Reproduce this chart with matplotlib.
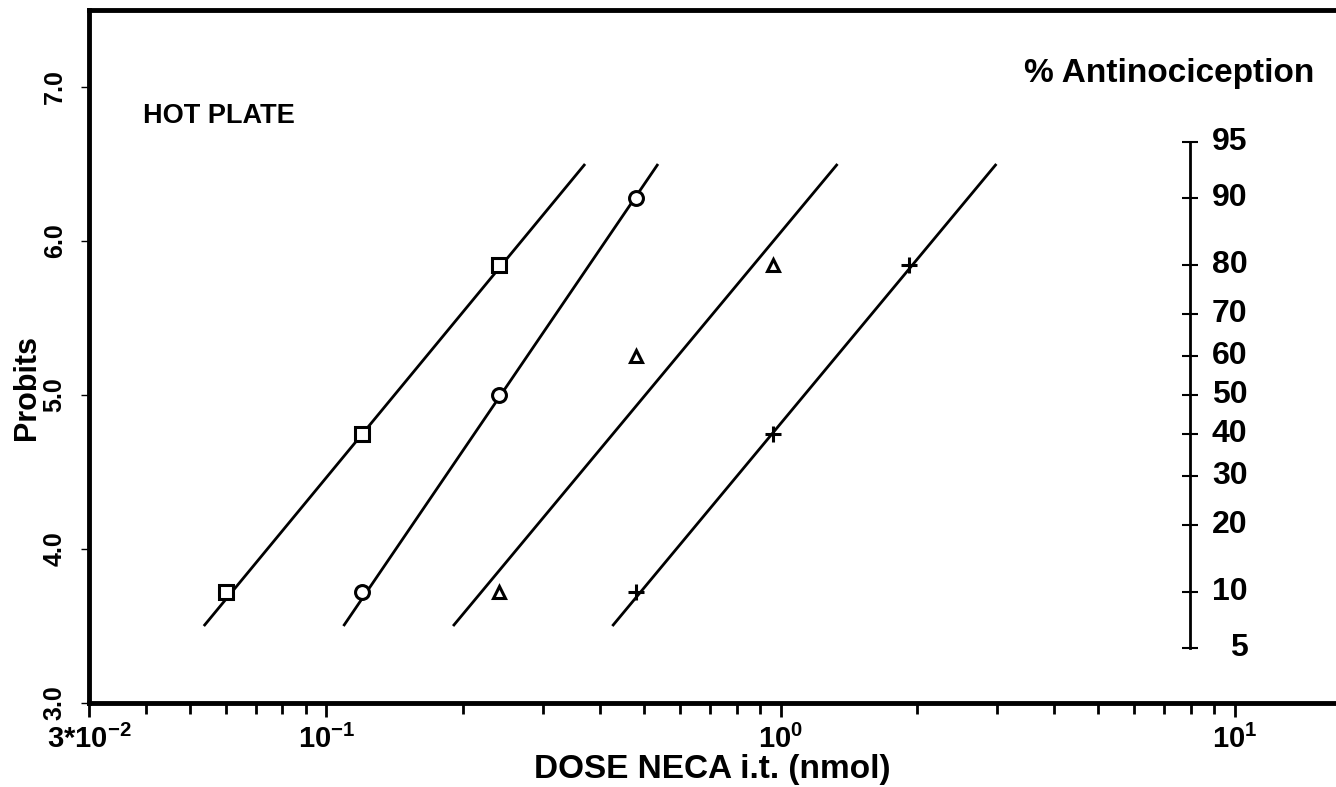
from statistics import NormalDist

import matplotlib
matplotlib.use("Agg")
import matplotlib.pyplot as plt
from matplotlib.ticker import FixedLocator, LogLocator, NullFormatter

plt.rcParams['font.family'] = ['Liberation Sans', 'DejaVu Sans']
plt.rcParams['font.weight'] = 'bold'
plt.rcParams['mathtext.fontset'] = 'custom'
plt.rcParams['mathtext.rm'] = 'Liberation Sans:bold'
plt.rcParams['mathtext.it'] = 'Liberation Sans:bold'
plt.rcParams['mathtext.bf'] = 'Liberation Sans:bold'

# doses (nmol) and % antinociception for each treatment group
dose_square = [0.06, 0.12, 0.24]
pct_square = [10, 40, 80]
dose_circle = [0.12, 0.24, 0.48]
pct_circle = [10, 50, 90]
dose_triangle = [0.24, 0.48, 0.96]
pct_triangle = [10, 60, 80]
dose_plus = [0.48, 0.96, 1.92]
pct_plus = [10, 40, 80]

# fitted probit lines: dose at probit 3.5 and at probit 6.5
fit_probits = [3.5, 6.5]
fit_square = [0.0537, 0.371]
fit_circle = [0.109, 0.537]
fit_triangle = [0.190, 1.334]
fit_plus = [0.426, 2.985]

pct_scale = [95, 90, 80, 70, 60, 50, 40, 30, 20, 10, 5]
probit_ticks = [3.0, 4.0, 5.0, 6.0, 7.0]


def probit(p):
    return 5 + NormalDist().inv_cdf(p / 100.0)


fig = plt.figure(figsize=(13.36, 7.87), dpi=100)
ax = fig.add_axes([0.0666, 0.1067, 0.9334, 0.8806])
ax.set_xscale('log')
ax.set_xlim(0.03, 16.7)
ax.set_ylim(3.0, 7.5)

groups = [
    (dose_square, pct_square, fit_square, 's', 10),
    (dose_circle, pct_circle, fit_circle, 'o', 10),
    (dose_triangle, pct_triangle, fit_triangle, '^', 8),
    (dose_plus, pct_plus, fit_plus, '+', 12),
]
for doses, pcts, fit, mk, ms in groups:
    ax.plot(fit, fit_probits, color='black', lw=2.0, solid_capstyle='butt')
    ax.plot(doses, [probit(p) for p in pcts], linestyle='none', marker=mk,
            ms=ms, mfc='white', mec='black', mew=2.2)

# percent scale drawn inside the plot
yt = ax.get_yaxis_transform()
sx = 0.883
scale_y = [probit(p) for p in pct_scale]
ax.plot([sx, sx], [min(scale_y), max(scale_y)], color='black', lw=2.0,
        transform=yt)
ax.plot([sx] * len(scale_y), scale_y, linestyle='none', marker='_', ms=11,
        mew=1.5, color='black', transform=yt)
for p, y in zip(pct_scale, scale_y):
    ax.text(0.929, y, str(p), transform=yt, ha='right', va='center',
            fontsize=23, fontweight='bold')
ax.text(0.866, 0.908, '% Antinociception', transform=ax.transAxes,
        ha='center', va='center', fontsize=24, fontweight='bold')
ax.text(0.0433, 0.847, 'HOT PLATE', transform=ax.transAxes,
        ha='left', va='center', fontsize=19.5, fontweight='bold')

# spines
for side in ['left', 'bottom', 'top']:
    ax.spines[side].set_linewidth(3.5)
ax.spines['right'].set_visible(False)

# x axis
ax.xaxis.set_major_locator(FixedLocator([0.03, 0.1, 1, 10]))
ax.set_xticklabels(['3*$10^{-2}$', '$10^{-1}$', '$10^{0}$', '$10^{1}$'],
                   fontsize=21)
ax.xaxis.set_minor_locator(LogLocator(base=10, subs=range(2, 10)))
ax.xaxis.set_minor_formatter(NullFormatter())
ax.tick_params(axis='x', which='major', direction='out', length=10, width=2,
               pad=6)
ax.tick_params(axis='x', which='minor', direction='out', length=8, width=2)

# y axis
ax.set_yticks(probit_ticks)
ax.set_yticklabels(['%.1f' % t for t in probit_ticks], rotation=90,
                   va='center', fontsize=18)
ax.yaxis.set_minor_locator(FixedLocator([]))
ax.tick_params(axis='y', direction='out', length=6, width=1, pad=10)

ax.set_xlabel('DOSE NECA i.t. (nmol)', fontsize=24, fontweight='bold',
              labelpad=0)
ax.set_ylabel('Probits', fontsize=22, fontweight='bold')
ax.yaxis.set_label_coords(-0.038, 0.455)

fig.savefig('out.png', dpi=100)
